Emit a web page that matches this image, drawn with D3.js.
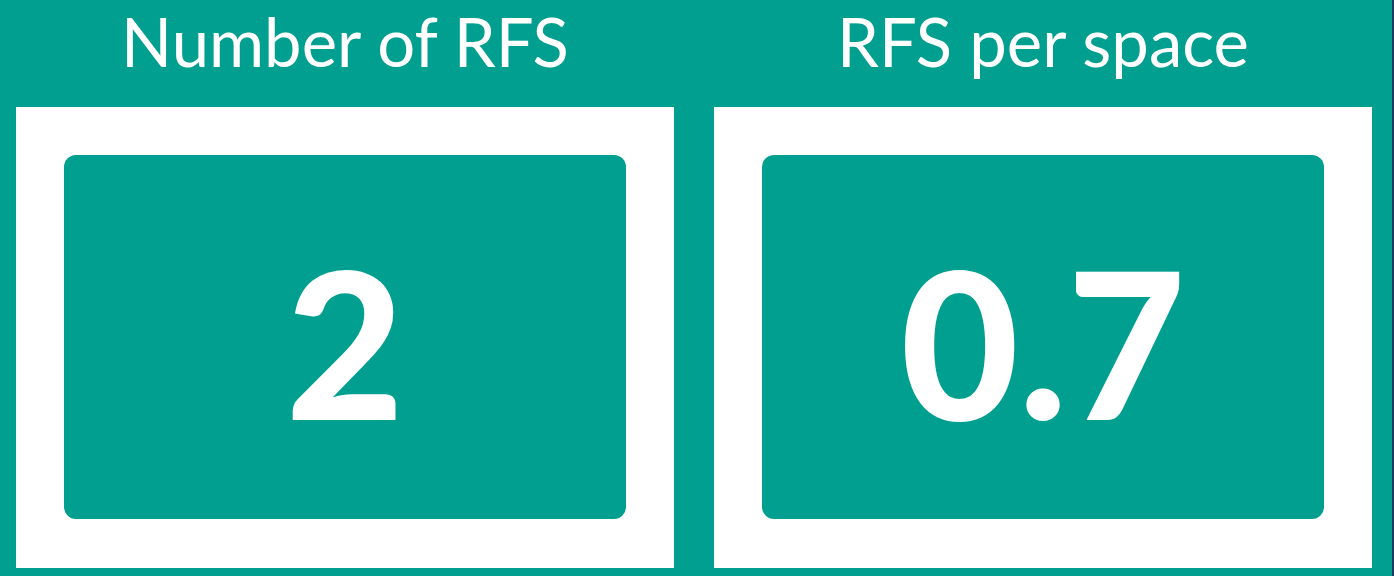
<!DOCTYPE html>
<html><head><meta charset="utf-8">
<script src="https://cdn.jsdelivr.net/npm/d3@7"></script>
<style>html,body{margin:0;padding:0;background:#009F8F;overflow:hidden}</style>
</head><body>
<script>
const titles = ["Number of RFS", "RFS per space"];
const values = ["2", "0.7"];

const W = 1394, H = 576, teal = "#009F8F";
const svg = d3.select("body").append("svg").attr("width", W).attr("height", H);
svg.append("rect").attr("width", W).attr("height", H).attr("fill", teal);
svg.append("rect").attr("x", 1392).attr("width", 2).attr("height", H).attr("fill", "#1F3A5F");

const x = d3.scaleBand().domain(titles).range([16, 1372]).paddingInner(40 / 698);
const bw = x.bandwidth();

const g = svg.selectAll("g.card").data(titles.map((t, i) => ({t, v: values[i]})))
  .join("g").attr("class", "card").attr("transform", d => `translate(${x(d.t)},0)`);

g.append("rect").attr("y", 107).attr("width", bw).attr("height", 461).attr("fill", "#fff");
g.append("rect").attr("x", 48).attr("y", 155).attr("width", bw - 96).attr("height", 364)
  .attr("rx", 12).attr("fill", teal);

g.append("text").attr("x", bw / 2).attr("y", 67).attr("text-anchor", "middle")
  .attr("fill", "#fff").attr("font-family", "Lato, 'Open Sans', sans-serif")
  .attr("font-size", 67).text(d => d.t);

g.append("text").attr("x", bw / 2).attr("y", 420).attr("text-anchor", "middle")
  .attr("fill", "#fff").attr("font-family", "Lato, 'Open Sans', sans-serif")
  .attr("font-weight", 900).attr("font-size", 204).text(d => d.v);
</script>
</body></html>
